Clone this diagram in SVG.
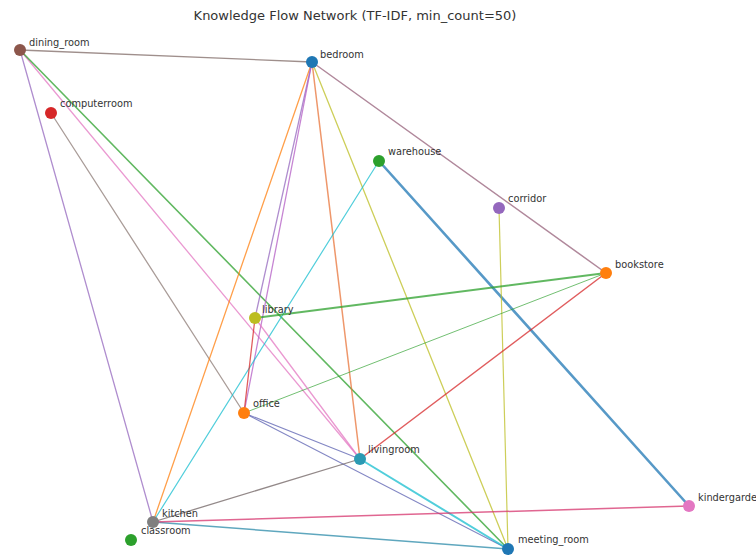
<svg xmlns="http://www.w3.org/2000/svg" width="756" height="556" viewBox="0 0 756 556">
<style>
.e{fill:none;stroke-linecap:round;stroke-opacity:0.75}
.n{stroke:none}
.l{font-family:"DejaVu Sans","Liberation Sans",sans-serif;font-size:9.8px;fill:#333}
.t{font-family:"DejaVu Sans","Liberation Sans",sans-serif;font-size:13px;fill:#333;text-anchor:middle}
</style>
<rect width="756" height="556" fill="#ffffff"/>
<text class="t" x="355" y="20">Knowledge Flow Network (TF-IDF, min_count=50)</text>
<g id="connectors">
<line class="e" x1="20" y1="50" x2="312" y2="62" stroke="#7f6a65" stroke-width="1.3"/>
<line class="e" x1="20" y1="50" x2="153" y2="522" stroke="#9467bd" stroke-width="1.3"/>
<line class="e" x1="20" y1="50" x2="360" y2="459" stroke="#e377c2" stroke-width="1.3"/>
<line class="e" x1="20" y1="50" x2="508" y2="549" stroke="#2ca02c" stroke-width="1.6"/>
<line class="e" x1="51" y1="113" x2="244" y2="413" stroke="#8c7b75" stroke-width="1.3"/>
<line class="e" x1="312" y1="62" x2="606" y2="273" stroke="#96607a" stroke-width="1.5"/>
<line class="e" x1="312" y1="62" x2="153" y2="522" stroke="#ff7f0e" stroke-width="1.3"/>
<line class="e" x1="312" y1="62" x2="255" y2="318" stroke="#9467bd" stroke-width="1.3"/>
<line class="e" x1="312" y1="62" x2="244" y2="413" stroke="#b35cc4" stroke-width="1.3"/>
<line class="e" x1="312" y1="62" x2="360" y2="459" stroke="#e8743a" stroke-width="1.5"/>
<line class="e" x1="312" y1="62" x2="508" y2="549" stroke="#bcbd22" stroke-width="1.3"/>
<line class="e" x1="379" y1="161" x2="153" y2="522" stroke="#17becf" stroke-width="1.2"/>
<line class="e" x1="379" y1="161" x2="689" y2="506" stroke="#1f77b4" stroke-width="2.6"/>
<line class="e" x1="499" y1="208" x2="508" y2="549" stroke="#bcbd22" stroke-width="1.2"/>
<line class="e" x1="606" y1="273" x2="255" y2="318" stroke="#2ca02c" stroke-width="2"/>
<line class="e" x1="606" y1="273" x2="244" y2="413" stroke="#2ca02c" stroke-width="0.9"/>
<line class="e" x1="606" y1="273" x2="360" y2="459" stroke="#d62728" stroke-width="1.5"/>
<line class="e" x1="255" y1="318" x2="244" y2="413" stroke="#d62728" stroke-width="1.3"/>
<line class="e" x1="255" y1="318" x2="360" y2="459" stroke="#e377c2" stroke-width="1.3"/>
<line class="e" x1="244" y1="413" x2="360" y2="459" stroke="#5a5fb0" stroke-width="1.1"/>
<line class="e" x1="244" y1="413" x2="508" y2="549" stroke="#5a5fb0" stroke-width="1.1"/>
<line class="e" x1="360" y1="459" x2="153" y2="522" stroke="#6f6262" stroke-width="1.3"/>
<line class="e" x1="360" y1="459" x2="508" y2="549" stroke="#17becf" stroke-width="2"/>
<line class="e" x1="153" y1="522" x2="508" y2="549" stroke="#2a8aa8" stroke-width="1.5"/>
<line class="e" x1="153" y1="522" x2="689" y2="506" stroke="#d6336c" stroke-width="1.5"/>
</g>
<g id="dining_room"><circle class="n" cx="20" cy="50" r="6" fill="#8c564b"/><text class="l" x="29" y="46">dining_room</text></g>
<g id="computerroom"><circle class="n" cx="51" cy="113" r="6" fill="#d62728"/><text class="l" x="60" y="107">computerroom</text></g>
<g id="bedroom"><circle class="n" cx="312" cy="62" r="6" fill="#1f77b4"/><text class="l" x="320" y="58">bedroom</text></g>
<g id="warehouse"><circle class="n" cx="379" cy="161" r="6" fill="#2ca02c"/><text class="l" x="388" y="155">warehouse</text></g>
<g id="corridor"><circle class="n" cx="499" cy="208" r="6" fill="#9467bd"/><text class="l" x="508" y="202">corridor</text></g>
<g id="bookstore"><circle class="n" cx="606" cy="273" r="6" fill="#ff7f0e"/><text class="l" x="615" y="268">bookstore</text></g>
<g id="library"><circle class="n" cx="255" cy="318" r="6" fill="#bcbd22"/><text class="l" x="262" y="313">library</text></g>
<g id="office"><circle class="n" cx="244" cy="413" r="6" fill="#ff7f0e"/><text class="l" x="253" y="407">office</text></g>
<g id="livingroom"><circle class="n" cx="360" cy="459" r="6" fill="#2b9ab3"/><text class="l" x="368" y="453">livingroom</text></g>
<g id="kindergarden"><circle class="n" cx="689" cy="506" r="6" fill="#e377c2"/><text class="l" x="698" y="501">kindergarden</text></g>
<g id="kitchen"><circle class="n" cx="153" cy="522" r="6" fill="#7f7f7f"/><text class="l" x="162" y="517">kitchen</text></g>
<g id="classroom"><circle class="n" cx="131" cy="540" r="6" fill="#2ca02c"/><text class="l" x="141" y="534">classroom</text></g>
<g id="meeting_room"><circle class="n" cx="508" cy="549" r="6" fill="#1f77b4"/><text class="l" x="518" y="543">meeting_room</text></g>
</svg>
